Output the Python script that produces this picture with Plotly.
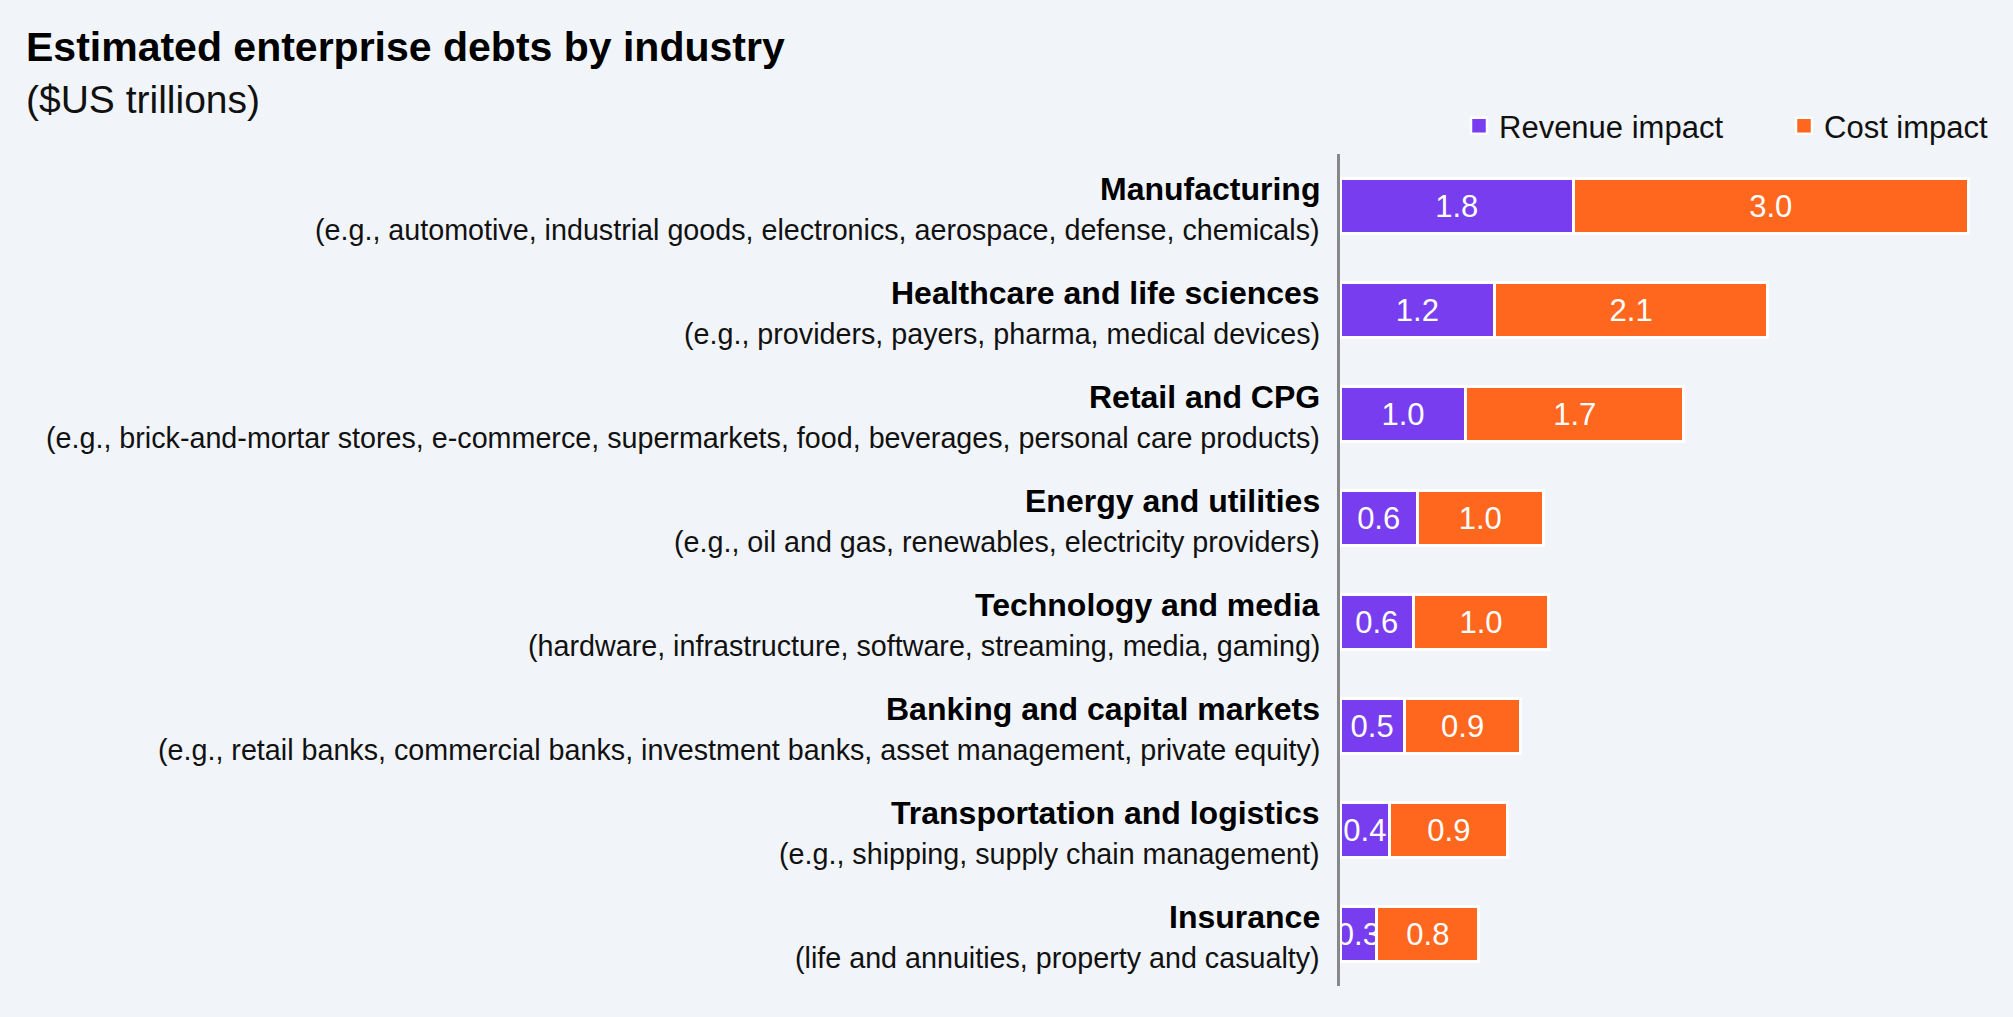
import plotly.graph_objects as go

industries = [
    "Manufacturing",
    "Healthcare and life sciences",
    "Retail and CPG",
    "Energy and utilities",
    "Technology and media",
    "Banking and capital markets",
    "Transportation and logistics",
    "Insurance",
]
examples = [
    "(e.g., automotive, industrial goods, electronics, aerospace, defense, chemicals)",
    "(e.g., providers, payers, pharma, medical devices)",
    "(e.g., brick-and-mortar stores, e-commerce, supermarkets, food, beverages, personal care products)",
    "(e.g., oil and gas, renewables, electricity providers)",
    "(hardware, infrastructure, software, streaming, media, gaming)",
    "(e.g., retail banks, commercial banks, investment banks, asset management, private equity)",
    "(e.g., shipping, supply chain management)",
    "(life and annuities, property and casualty)",
]
revenue_impact = [1.78, 1.18, 0.96, 0.59, 0.56, 0.49, 0.38, 0.28]
cost_impact = [3.01, 2.08, 1.66, 0.96, 1.03, 0.89, 0.90, 0.78]
series_names = ["Revenue impact", "Cost impact"]

BG = "#F1F5F9"
PURPLE = "#773DEF"
ORANGE = "#FF671F"
FONT = "Liberation Sans, Arial, sans-serif"

# plot area geometry (px)
L, R, T, B = 1340, 20, 154, 31
W, H = 2013, 1017
PW, PH = W - L - R, H - T - B


def px_to_paper_x(px):
    return (px - L) / PW


def px_to_paper_y(py):
    return 1 + (T - py) / PH


fig = go.Figure()
for vals, name, col in [(revenue_impact, series_names[0], PURPLE), (cost_impact, series_names[1], ORANGE)]:
    fig.add_trace(go.Bar(
        y=industries, x=vals, orientation="h", name=name, showlegend=False,
        marker=dict(color=col, line=dict(color="white", width=3)),
        texttemplate="%{x:.1f}", textposition="inside", insidetextanchor="middle",
        textangle=0, constraintext="none",
        textfont=dict(color="white", size=31, family=FONT),
    ))
# legend entries
for name, col in [(series_names[0], PURPLE), (series_names[1], ORANGE)]:
    fig.add_trace(go.Scatter(
        x=[None], y=[None], mode="markers", name=name, showlegend=True,
        marker=dict(symbol="square", size=16, color=col, line=dict(color="white", width=2.5)),
    ))

for name, ex in zip(industries, examples):
    fig.add_annotation(x=0, xref="paper", y=name, yref="y", text="<b>" + name + "</b>",
                       xanchor="right", yanchor="middle", xshift=-18, yshift=17,
                       showarrow=False, font=dict(size=32, color="#000000", family=FONT))
    fig.add_annotation(x=0, xref="paper", y=name, yref="y", text=ex,
                       xanchor="right", yanchor="middle", xshift=-18, yshift=-24,
                       showarrow=False, font=dict(size=28.7, color="#111111", family=FONT))

fig.add_annotation(x=px_to_paper_x(24), xref="paper", y=px_to_paper_y(47), yref="paper",
                   text="<b>Estimated enterprise debts by industry</b>", xanchor="left", yanchor="middle",
                   showarrow=False, font=dict(size=41, color="#000000", family=FONT))
fig.add_annotation(x=px_to_paper_x(24), xref="paper", y=px_to_paper_y(100), yref="paper",
                   text="($US trillions)", xanchor="left", yanchor="middle",
                   showarrow=False, font=dict(size=39, color="#111111", family=FONT))

fig.update_layout(
    width=W, height=H,
    paper_bgcolor=BG, plot_bgcolor=BG,
    margin=dict(l=L, r=R, t=T, b=B, autoexpand=False),
    barmode="stack", bargap=0.48,
    showlegend=True,
    legend=dict(orientation="h", x=px_to_paper_x(2109), xanchor="right", y=px_to_paper_y(126), yanchor="middle",
                font=dict(size=31, color="#111111", family=FONT), bgcolor="rgba(0,0,0,0)",
                traceorder="normal", entrywidth=280, itemsizing="trace"),
    uniformtext=dict(minsize=31, mode="show"),
    font=dict(family=FONT),
    xaxis=dict(range=[0, 4.98], visible=False, fixedrange=True),
    yaxis=dict(autorange="reversed", showticklabels=False, showline=True,
               linecolor="#888888", linewidth=3, ticks="", showgrid=False, zeroline=False),
)

fig.write_html("out.html")
